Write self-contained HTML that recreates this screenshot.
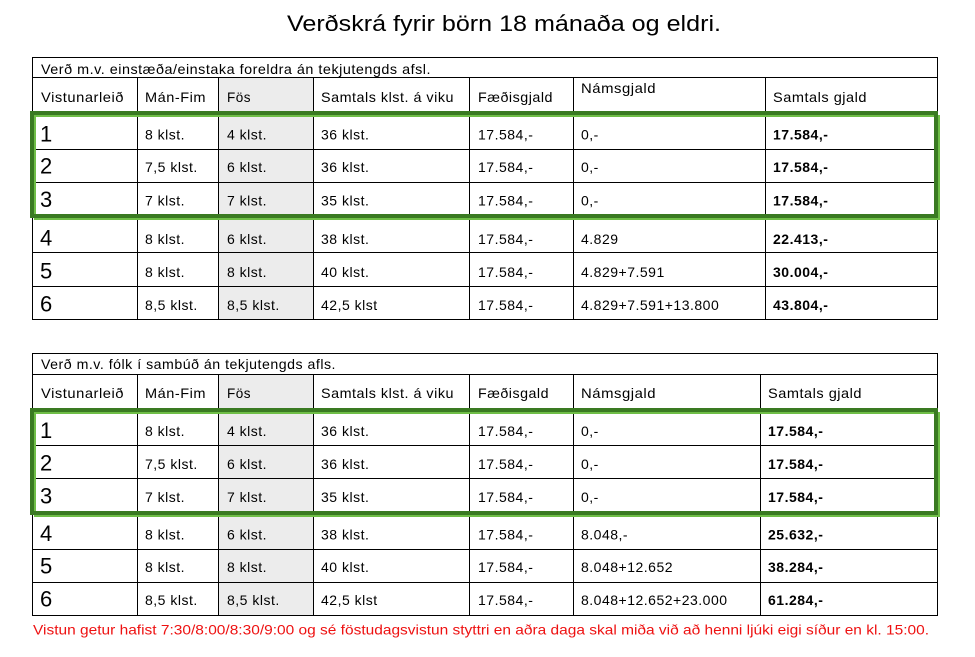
<!DOCTYPE html>
<html>
<head>
<meta charset="utf-8">
<style>
html,body{margin:0;padding:0;background:#fff;}
svg{display:block;}
text{font-family:"Liberation Sans",Arial,sans-serif;fill:#000;}
.c text{letter-spacing:0.5px;}
.c text.big{letter-spacing:0;}
</style>
</head>
<body>
<svg width="975" height="657" viewBox="0 0 975 657" xmlns="http://www.w3.org/2000/svg" shape-rendering="crispEdges">
<rect x="0" y="0" width="975" height="657" fill="#fff"/>

<!-- Title -->
<text x="287" y="31" font-size="22" textLength="434" lengthAdjust="spacingAndGlyphs">Verðskrá fyrir börn 18 mánaða og eldri.</text>

<!-- ============ TABLE 1 ============ -->
<rect x="219" y="78" width="94" height="241" fill="#ececec"/>
<g fill="#000">
  <rect x="32" y="57" width="906" height="1"/>
  <rect x="32" y="77" width="906" height="1"/>
  <rect x="32" y="112" width="906" height="1"/>
  <rect x="32" y="149" width="906" height="1"/>
  <rect x="32" y="182" width="906" height="1"/>
  <rect x="32" y="216" width="906" height="1"/>
  <rect x="32" y="252" width="906" height="1"/>
  <rect x="32" y="286" width="906" height="1"/>
  <rect x="32" y="319" width="906" height="1"/>
  <rect x="32" y="57" width="1" height="263"/>
  <rect x="937" y="57" width="1" height="263"/>
  <rect x="137" y="77" width="1" height="243"/>
  <rect x="218" y="77" width="1" height="243"/>
  <rect x="313" y="77" width="1" height="243"/>
  <rect x="469" y="77" width="1" height="243"/>
  <rect x="573" y="77" width="1" height="243"/>
  <rect x="765" y="77" width="1" height="243"/>
</g>
<!-- green frame 1 -->
<g fill="#6fbe47">
  <rect x="34" y="115" width="906" height="2"/>
  <rect x="34" y="218" width="906" height="2"/>
  <rect x="34" y="115" width="2" height="105"/>
  <rect x="938" y="115" width="2" height="105"/>
</g>
<g fill="#3a7a22">
  <rect x="30" y="111" width="908" height="4"/>
  <rect x="30" y="214" width="908" height="4"/>
  <rect x="30" y="111" width="4" height="107"/>
  <rect x="934" y="111" width="4" height="107"/>
</g>

<g font-size="14" class="c">
  <text x="41" y="74" textLength="390" lengthAdjust="spacingAndGlyphs">Verð m.v. einstæða/einstaka foreldra án tekjutengds afsl.</text>
  <text x="41" y="102" textLength="83" lengthAdjust="spacingAndGlyphs">Vistunarleið</text>
  <text x="145" y="102" textLength="61" lengthAdjust="spacingAndGlyphs">Mán-Fim</text>
  <text x="227" y="102" textLength="24" lengthAdjust="spacingAndGlyphs">Fös</text>
  <text x="321" y="102" textLength="133" lengthAdjust="spacingAndGlyphs">Samtals klst. á viku</text>
  <text x="478" y="102" textLength="75" lengthAdjust="spacingAndGlyphs">Fæðisgjald</text>
  <text x="581" y="93" textLength="75" lengthAdjust="spacingAndGlyphs">Námsgjald</text>
  <text x="773" y="102" textLength="94" lengthAdjust="spacingAndGlyphs">Samtals gjald</text>

  <!-- row 1 -->
  <text class="big" x="40" y="141.5" font-size="22">1</text>
  <text x="145" y="139.5">8 klst.</text>
  <text x="227" y="139.5">4 klst.</text>
  <text x="321" y="139.5">36 klst.</text>
  <text x="478" y="139.5">17.584,-</text>
  <text x="581" y="139.5">0,-</text>
  <text x="773" y="139.5" font-weight="bold">17.584,-</text>
  <!-- row 2 -->
  <text class="big" x="40" y="173.5" font-size="22">2</text>
  <text x="145" y="172">7,5 klst.</text>
  <text x="227" y="172">6 klst.</text>
  <text x="321" y="172">36 klst.</text>
  <text x="478" y="172">17.584,-</text>
  <text x="581" y="172">0,-</text>
  <text x="773" y="172" font-weight="bold">17.584,-</text>
  <!-- row 3 -->
  <text class="big" x="40" y="207" font-size="22">3</text>
  <text x="145" y="205.5">7 klst.</text>
  <text x="227" y="205.5">7 klst.</text>
  <text x="321" y="205.5">35 klst.</text>
  <text x="478" y="205.5">17.584,-</text>
  <text x="581" y="205.5">0,-</text>
  <text x="773" y="205.5" font-weight="bold">17.584,-</text>
  <!-- row 4 -->
  <text class="big" x="40" y="245.5" font-size="22">4</text>
  <text x="145" y="244">8 klst.</text>
  <text x="227" y="244">6 klst.</text>
  <text x="321" y="244">38 klst.</text>
  <text x="478" y="244">17.584,-</text>
  <text x="581" y="244">4.829</text>
  <text x="773" y="244" font-weight="bold">22.413,-</text>
  <!-- row 5 -->
  <text class="big" x="40" y="278.5" font-size="22">5</text>
  <text x="145" y="277">8 klst.</text>
  <text x="227" y="277">8 klst.</text>
  <text x="321" y="277">40 klst.</text>
  <text x="478" y="277">17.584,-</text>
  <text x="581" y="277">4.829+7.591</text>
  <text x="773" y="277" font-weight="bold">30.004,-</text>
  <!-- row 6 -->
  <text class="big" x="40" y="311.5" font-size="22">6</text>
  <text x="145" y="310">8,5 klst.</text>
  <text x="227" y="310">8,5 klst.</text>
  <text x="321" y="310">42,5 klst</text>
  <text x="478" y="310">17.584,-</text>
  <text x="581" y="310">4.829+7.591+13.800</text>
  <text x="773" y="310" font-weight="bold">43.804,-</text>
</g>

<!-- ============ TABLE 2 ============ -->
<rect x="219" y="375" width="94" height="240" fill="#ececec"/>
<g fill="#000">
  <rect x="32" y="353" width="906" height="1"/>
  <rect x="32" y="374" width="906" height="1"/>
  <rect x="32" y="408" width="906" height="1"/>
  <rect x="32" y="445" width="906" height="1"/>
  <rect x="32" y="478" width="906" height="1"/>
  <rect x="32" y="512" width="906" height="1"/>
  <rect x="32" y="549" width="906" height="1"/>
  <rect x="32" y="582" width="906" height="1"/>
  <rect x="32" y="615" width="906" height="1"/>
  <rect x="32" y="353" width="1" height="263"/>
  <rect x="937" y="353" width="1" height="263"/>
  <rect x="137" y="374" width="1" height="242"/>
  <rect x="218" y="374" width="1" height="242"/>
  <rect x="313" y="374" width="1" height="242"/>
  <rect x="469" y="374" width="1" height="242"/>
  <rect x="573" y="374" width="1" height="242"/>
  <rect x="760" y="374" width="1" height="242"/>
</g>
<!-- green frame 2 -->
<g fill="#6fbe47">
  <rect x="34" y="412" width="906" height="2"/>
  <rect x="34" y="515" width="906" height="2"/>
  <rect x="34" y="412" width="2" height="105"/>
  <rect x="938" y="412" width="2" height="105"/>
</g>
<g fill="#3a7a22">
  <rect x="30" y="408" width="908" height="4"/>
  <rect x="30" y="511" width="908" height="4"/>
  <rect x="30" y="408" width="4" height="107"/>
  <rect x="934" y="408" width="4" height="107"/>
</g>

<g font-size="14" class="c">
  <text x="41" y="369" textLength="295" lengthAdjust="spacingAndGlyphs">Verð m.v. fólk í sambúð án tekjutengds afls.</text>
  <text x="41" y="398" textLength="83" lengthAdjust="spacingAndGlyphs">Vistunarleið</text>
  <text x="145" y="398" textLength="61" lengthAdjust="spacingAndGlyphs">Mán-Fim</text>
  <text x="227" y="398" textLength="24" lengthAdjust="spacingAndGlyphs">Fös</text>
  <text x="321" y="398" textLength="133" lengthAdjust="spacingAndGlyphs">Samtals klst. á viku</text>
  <text x="478" y="398" textLength="71" lengthAdjust="spacingAndGlyphs">Fæðisgald</text>
  <text x="581" y="398" textLength="75" lengthAdjust="spacingAndGlyphs">Námsgjald</text>
  <text x="768" y="398" textLength="94" lengthAdjust="spacingAndGlyphs">Samtals gjald</text>

  <!-- row 1 -->
  <text class="big" x="40" y="438" font-size="22">1</text>
  <text x="145" y="436">8 klst.</text>
  <text x="227" y="436">4 klst.</text>
  <text x="321" y="436">36 klst.</text>
  <text x="478" y="436">17.584,-</text>
  <text x="581" y="436">0,-</text>
  <text x="768" y="436" font-weight="bold">17.584,-</text>
  <!-- row 2 -->
  <text class="big" x="40" y="470.5" font-size="22">2</text>
  <text x="145" y="469">7,5 klst.</text>
  <text x="227" y="469">6 klst.</text>
  <text x="321" y="469">36 klst.</text>
  <text x="478" y="469">17.584,-</text>
  <text x="581" y="469">0,-</text>
  <text x="768" y="469" font-weight="bold">17.584,-</text>
  <!-- row 3 -->
  <text class="big" x="40" y="503.5" font-size="22">3</text>
  <text x="145" y="502">7 klst.</text>
  <text x="227" y="502">7 klst.</text>
  <text x="321" y="502">35 klst.</text>
  <text x="478" y="502">17.584,-</text>
  <text x="581" y="502">0,-</text>
  <text x="768" y="502" font-weight="bold">17.584,-</text>
  <!-- row 4 -->
  <text class="big" x="40" y="541" font-size="22">4</text>
  <text x="145" y="539.5">8 klst.</text>
  <text x="227" y="539.5">6 klst.</text>
  <text x="321" y="539.5">38 klst.</text>
  <text x="478" y="539.5">17.584,-</text>
  <text x="581" y="539.5">8.048,-</text>
  <text x="768" y="539.5" font-weight="bold">25.632,-</text>
  <!-- row 5 -->
  <text class="big" x="40" y="573.5" font-size="22">5</text>
  <text x="145" y="572">8 klst.</text>
  <text x="227" y="572">8 klst.</text>
  <text x="321" y="572">40 klst.</text>
  <text x="478" y="572">17.584,-</text>
  <text x="581" y="572">8.048+12.652</text>
  <text x="768" y="572" font-weight="bold">38.284,-</text>
  <!-- row 6 -->
  <text class="big" x="40" y="606.5" font-size="22">6</text>
  <text x="145" y="605">8,5 klst.</text>
  <text x="227" y="605">8,5 klst.</text>
  <text x="321" y="605">42,5 klst</text>
  <text x="478" y="605">17.584,-</text>
  <text x="581" y="605">8.048+12.652+23.000</text>
  <text x="768" y="605" font-weight="bold">61.284,-</text>
</g>

<!-- Footer note -->
<text x="33" y="634.5" font-size="14" style="fill:#ee1111" textLength="896" lengthAdjust="spacingAndGlyphs">Vistun getur hafist 7:30/8:00/8:30/9:00 og sé föstudagsvistun styttri en aðra daga skal miða við að henni ljúki eigi síður en kl. 15:00.</text>
</svg>
</body>
</html>
